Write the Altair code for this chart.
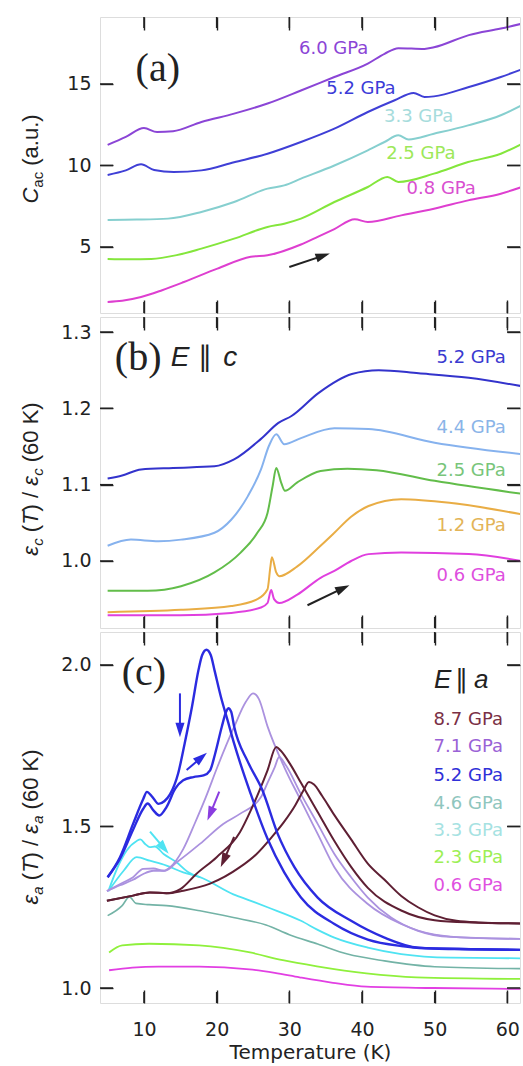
import math
import altair as alt
import pandas as pd

# ======================= DATA =======================
TEMP_TICKS = [10, 20, 30, 40, 50, 60]
A_TICKS = [5, 10, 15]
B_TICKS = [1.0, 1.1, 1.2, 1.3]
C_TICKS = [1.0, 1.5, 2.0]

# ---- panel (a): C_ac (a.u.) ----
A60_T = [5.0, 7.5, 10.0, 11.8, 14.0, 17.9, 22.4, 27.0, 31.6, 36.2, 40.8, 43.1, 45.0, 48.6, 49.9, 54.7, 59.1, 62.0]
A60_V = [11.26, 11.75, 12.3, 12.05, 12.1, 12.67, 13.18, 13.8, 14.6, 15.43, 16.25, 16.85, 17.2, 17.15, 17.25, 18.0, 18.4, 18.7]
A52_T = [5.0, 7.5, 9.6, 11.4, 14.1, 17.9, 22.4, 27.0, 31.6, 36.2, 40.8, 44.5, 47.1, 48.6, 49.9, 54.6, 59.1, 62.0]
A52_V = [9.42, 9.7, 10.07, 9.72, 9.6, 9.7, 10.2, 10.72, 11.44, 12.26, 13.28, 14.0, 14.45, 14.2, 14.24, 14.8, 15.43, 15.9]
A33_T = [5.0, 9.0, 13.3, 17.9, 22.4, 27.0, 29.3, 31.6, 36.2, 40.8, 43.1, 45.0, 46.4, 49.9, 54.6, 59.1, 62.0]
A33_V = [6.66, 6.68, 6.74, 7.15, 7.76, 8.58, 8.78, 9.19, 10.0, 10.93, 11.44, 11.85, 11.6, 11.95, 12.46, 13.08, 13.7]
A25_T = [5.0, 8.0, 11.0, 14.5, 17.9, 22.4, 27.0, 29.3, 31.6, 36.2, 40.8, 43.5, 45.0, 49.9, 54.6, 59.1, 62.0]
A25_V = [4.27, 4.25, 4.27, 4.5, 4.9, 5.51, 6.23, 6.43, 6.74, 7.76, 8.68, 9.3, 8.99, 9.5, 10.21, 10.72, 11.33]
A08_T = [5.0, 7.0, 9.6, 12.5, 15.5, 20.1, 24.7, 27.0, 31.6, 33.9, 36.2, 39.0, 40.8, 45.4, 49.9, 54.6, 59.1, 62.0]
A08_V = [1.63, 1.7, 1.93, 2.35, 2.85, 3.67, 4.4, 4.49, 5.15, 5.62, 6.1, 6.7, 6.53, 6.94, 7.35, 7.86, 8.27, 8.68]
A_LABELS = ["6.0 GPa", "5.2 GPa", "3.3 GPa", "2.5 GPa", "0.8 GPa"]
A_LABEL_T = [36.1, 39.85, 47.8, 48.1, 50.9]
A_LABEL_V = [17.15, 14.7, 13.0, 10.7, 8.55]
A_ARROW = [30.0, 3.77, 35.5, 4.59]

# ---- panel (b): eps_c(T)/eps_c(60 K), E || c ----
B52_T = [5.0, 7.0, 9.6, 14.0, 19.7, 22.4, 26.1, 28.5, 30.3, 34.0, 38.6, 42.3, 47.8, 54.7, 62.0]
B52_V = [1.108, 1.112, 1.120, 1.122, 1.124, 1.133, 1.160, 1.181, 1.19, 1.22, 1.245, 1.250, 1.246, 1.240, 1.229]
B44_T = [5.0, 8.2, 12.0, 15.1, 19.7, 22.0, 24.3, 26.1, 27.2, 28.2, 29.3, 31.6, 36.2, 40.9, 50.0, 62.0]
B44_V = [1.020, 1.028, 1.026, 1.028, 1.037, 1.054, 1.085, 1.12, 1.151, 1.166, 1.153, 1.161, 1.174, 1.173, 1.155, 1.140]
B25_T = [5.0, 10.5, 15.1, 19.7, 23.3, 25.6, 27.0, 27.7, 28.2, 28.9, 29.4, 31.1, 34.3, 38.0, 42.0, 50.0, 62.0]
B25_V = [0.961, 0.961, 0.967, 0.985, 1.011, 1.037, 1.063, 1.098, 1.122, 1.102, 1.092, 1.103, 1.118, 1.121, 1.119, 1.105, 1.088]
B12_T = [5.0, 15.1, 22.0, 25.6, 27.0, 27.4, 27.6, 28.2, 28.6, 31.1, 34.3, 36.2, 38.5, 40.9, 45.4, 52.3, 62.0]
B12_V = [0.933, 0.936, 0.941, 0.95, 0.963, 0.993, 1.005, 0.985, 0.98, 0.993, 1.02, 1.037, 1.058, 1.072, 1.081, 1.076, 1.061]
B06_T = [5.0, 15.0, 22.0, 26.1, 27.0, 27.5, 27.9, 28.6, 31.1, 34.3, 36.2, 38.5, 40.9, 45.4, 54.7, 62.0]
B06_V = [0.929, 0.929, 0.932, 0.939, 0.945, 0.962, 0.95, 0.945, 0.956, 0.978, 0.987, 1.0, 1.009, 1.011, 1.009, 1.0]
B_LABELS = ["5.2 GPa", "4.4 GPa", "2.5 GPa", "1.2 GPa", "0.6 GPa"]
B_LABEL_V = [1.266, 1.174, 1.118, 1.046, 0.980]
B_ARROW = [32.5, 0.942, 38.2, 0.968]

# ---- panel (c): eps_a(T)/eps_a(60 K), E || a ----
C06_T = [5.2, 8.4, 12.0, 17.6, 24.5, 28.0, 31.4, 36.0, 40.6, 49.8, 62.0]
C06_V = [1.055, 1.063, 1.066, 1.066, 1.058, 1.047, 1.033, 1.016, 1.004, 1.0, 0.997]
C23_T = [5.2, 7.0, 10.7, 17.6, 24.6, 29.1, 33.8, 40.6, 47.5, 62.0]
C23_V = [1.11, 1.132, 1.137, 1.132, 1.11, 1.086, 1.067, 1.045, 1.033, 1.028]
C46_T = [5.0, 7.0, 8.0, 8.9, 10.7, 13.1, 17.7, 22.3, 26.8, 30.0, 33.9, 38.0, 43.1, 50.0, 62.0]
C46_V = [1.224, 1.255, 1.282, 1.262, 1.258, 1.255, 1.239, 1.218, 1.195, 1.165, 1.136, 1.105, 1.084, 1.066, 1.06]
C33U_T = [5.1, 6.5, 7.6, 9.0, 9.5, 10.2, 10.8, 11.5, 12.7, 14.5, 16.0, 17.7]
C33U_V = [1.30, 1.38, 1.425, 1.455, 1.46, 1.445, 1.436, 1.438, 1.415, 1.389, 1.36, 1.343]
C33D_T = [5.1, 7.2, 9.0, 10.8, 13.1, 15.4, 17.7, 22.3, 24.7, 27.0, 31.6, 33.9, 36.2, 40.8, 45.4, 52.2, 62.0]
C33D_V = [1.30, 1.363, 1.405, 1.394, 1.379, 1.358, 1.343, 1.29, 1.27, 1.25, 1.208, 1.18, 1.156, 1.125, 1.105, 1.094, 1.092]
C52C_T = [5.0, 6.7, 8.5, 9.9, 10.4, 11.2, 12.0, 12.8, 13.6, 14.7, 15.6, 16.6, 17.5, 18.0, 18.6, 19.2, 19.7,
          20.6, 21.5, 22.4, 24.7, 27.0, 29.3, 31.6, 36.2, 40.8, 45.4, 48.6, 55.0, 62.0]
C52C_V = [1.343, 1.405, 1.508, 1.585, 1.607, 1.59, 1.57, 1.578, 1.60, 1.664, 1.757, 1.87, 1.984, 2.03, 2.047, 2.03, 1.984,
          1.90, 1.829, 1.757, 1.60, 1.462, 1.358, 1.28, 1.198, 1.15, 1.13, 1.123, 1.12, 1.118]
C52W_T = [5.0, 6.7, 8.5, 9.9, 10.5, 11.3, 12.1, 13.1, 14.3, 15.4, 16.8, 18.2, 19.1, 19.8, 20.7, 21.3, 21.6, 22.0,
          22.4, 24.3, 26.3, 28.4, 30.7, 33.9, 38.5, 43.1, 47.7, 55.0, 62.0]
C52W_V = [1.343, 1.40, 1.49, 1.555, 1.571, 1.55, 1.534, 1.56, 1.617, 1.643, 1.653, 1.658, 1.674, 1.726, 1.808, 1.855, 1.866, 1.855,
          1.81, 1.70, 1.612, 1.477, 1.374, 1.28, 1.208, 1.156, 1.125, 1.12, 1.118]
C71C_T = [4.9, 7.0, 8.5, 9.9, 11.3, 12.7, 13.6, 15.4, 17.0, 18.5, 20.1, 22.4, 24.0, 25.0, 25.8, 27.0, 29.3,
          31.6, 33.9, 36.2, 40.8, 45.4, 50.0, 55.0, 62.0]
C71C_V = [1.30, 1.325, 1.343, 1.369, 1.37, 1.363, 1.374, 1.43, 1.51, 1.59, 1.684, 1.808, 1.885, 1.912, 1.895, 1.81, 1.684,
          1.58, 1.477, 1.374, 1.26, 1.198, 1.165, 1.155, 1.152]
C71W_T = [4.9, 6.7, 8.5, 9.9, 11.3, 12.9, 14.5, 17.7, 20.9, 23.2, 26.1, 27.0, 28.0, 28.6, 29.5, 31.6, 33.9,
          36.2, 38.5, 40.8, 44.0, 47.7, 52.2, 62.0]
C71W_V = [1.30, 1.318, 1.335, 1.353, 1.363, 1.363, 1.389, 1.446, 1.508, 1.539, 1.591, 1.635, 1.684, 1.715, 1.69, 1.60, 1.508,
          1.415, 1.343, 1.28, 1.218, 1.177, 1.158, 1.152]
C87W_T = [4.9, 8.5, 10.8, 13.1, 15.4, 19.1, 23.2, 25.5, 27.5, 29.3, 30.8, 31.9, 32.7, 33.4, 34.5, 36.2, 38.5,
          40.8, 43.1, 45.4, 47.7, 50.0, 53.0, 56.0, 62.0]
C87W_V = [1.27, 1.286, 1.296, 1.293, 1.301, 1.323, 1.374, 1.415, 1.465, 1.515, 1.565, 1.61, 1.638, 1.63, 1.595, 1.535, 1.46,
          1.385, 1.335, 1.285, 1.25, 1.225, 1.208, 1.203, 1.20]
C87C_T = [4.9, 8.5, 10.8, 13.1, 15.0, 17.2, 20.0, 23.2, 24.7, 27.0, 28.2, 28.8, 30.2, 31.6, 33.9, 36.2, 38.5,
          40.8, 45.4, 50.0, 55.0, 62.0]
C87C_V = [1.27, 1.286, 1.296, 1.293, 1.306, 1.353, 1.405, 1.482, 1.55, 1.674, 1.746, 1.735, 1.69, 1.635, 1.545, 1.455, 1.375,
          1.31, 1.24, 1.21, 1.203, 1.20]
C_LABELS = ["8.7 GPa", "7.1 GPa", "5.2 GPa", "4.6 GPa", "3.3 GPa", "2.3 GPa", "0.6 GPa"]
C_LABEL_V = [1.830, 1.746, 1.656, 1.570, 1.486, 1.402, 1.316]
C_ARROWS = [
    [14.95, 1.912, 14.95, 1.778],   # blue, cooling
    [15.87, 1.675, 18.6, 1.727],    # blue, warming
    [20.36, 1.608, 18.76, 1.520],   # purple
    [22.4, 1.468, 20.6, 1.376],     # brown
    [10.83, 1.484, 13.35, 1.417],   # cyan
]

# ======================= STYLE =======================
INK = "#222222"
FONT = "DejaVu Sans"
TFONT = "Liberation Sans"
SERIF = "Liberation Serif"
W = 420
H_A, H_B, H_C = 296, 311, 371
X_DOMAIN = [3.95, 61.74]
YD_A = [0.95, 19.11]
YD_B = [0.9122, 1.3197]
YD_C = [0.9536, 2.102]
YTICK_LEN, XTICK_LEN = 13, 11

A_LINE = ["#8b45d6", "#3f3fd6", "#86cfcf", "#84e63c", "#de3fd0"]
A_TEXT = ["#8b45d6", "#3c3cd8", "#a6dcdc", "#9de85a", "#d94fd0"]
B_LINE = ["#3333cc", "#86b2ee", "#62bd4a", "#e9ad45", "#e03fdf"]
B_TEXT = ["#3a3ad0", "#8ab4e8", "#78c57a", "#e3b458", "#de4fde"]
C_TEXT = ["#7a2f45", "#9a62d6", "#3030d8", "#8fc6be", "#a6e2e2", "#9cef55", "#e050e0"]
C_COL = {"8.7": "#5e1f33", "7.1": "#ab92df", "5.2": "#2b2be0", "4.6": "#73b3a6",
         "3.3": "#4fe3f2", "2.3": "#8ff03c", "0.6": "#e23fe3"}
C_ARROW_COL = ["#2b2be0", "#2b2be0", "#8a3de0", "#5e1f33", "#4fe3f2"]

DUMMY = pd.DataFrame({"k": [0]})


def xscale():
    return alt.Scale(domain=X_DOMAIN, nice=False, zero=False)


def yscale(d):
    return alt.Scale(domain=d, nice=False, zero=False)


def line_df(curves):
    rows = []
    for key, ts, vs, col, w in curves:
        for i, (t, v) in enumerate(zip(ts, vs)):
            rows.append({"T": t, "V": v, "key": key, "color": col, "w": w, "i": i})
    return pd.DataFrame(rows)


def lines_layer(df, ydom, yticks, yfmt, bottom_labels):
    xa = dict(orient="bottom", values=TEMP_TICKS, tickSize=13, offset=-13, domain=False, grid=False,
              tickColor=INK, tickWidth=1.4, labels=bottom_labels)
    if bottom_labels:
        xa.update(labelFont=FONT, labelFontSize=19, labelColor=INK, labelPadding=17,
                  title="Temperature (K)", titleFont=FONT, titleFontSize=20, titleFontWeight="normal",
                  titleColor=INK, titlePadding=3)
    else:
        xa.update(title=None)
    ya = alt.Axis(orient="left", values=yticks, format=yfmt, tickSize=13, offset=-13, domain=False, grid=False,
                  tickColor=INK, tickWidth=1.4, labelFont=FONT, labelFontSize=19, labelColor=INK,
                  labelPadding=9, title=None)
    return alt.Chart(df).mark_line(interpolate="monotone", clip=True).encode(
        x=alt.X("T:Q", scale=xscale(), axis=alt.Axis(**xa)),
        y=alt.Y("V:Q", scale=yscale(ydom), axis=ya),
        color=alt.Color("color:N", scale=None),
        strokeWidth=alt.StrokeWidth("w:Q", scale=None),
        detail="key:N",
        order="i:Q",
    )


def mirror_layer(ydom, yticks):
    d = pd.DataFrame({"T": [30.0], "V": [(ydom[0] + ydom[1]) / 2]})
    return alt.Chart(d).mark_point(opacity=0).encode(
        x=alt.X("T:Q", scale=xscale(), axis=alt.Axis(orient="top", values=TEMP_TICKS, labels=False, tickSize=13,
                                                       offset=-13, domain=False, grid=False, title=None,
                                                       tickColor=INK, tickWidth=1.4)),
        y=alt.Y("V:Q", scale=yscale(ydom), axis=alt.Axis(orient="right", values=yticks, labels=False, tickSize=13,
                                                          offset=-13, domain=False, grid=False, title=None,
                                                          tickColor=INK, tickWidth=1.4)),
    )


def tick_layers(ydom, yticks, H):
    """Inward tick marks on all four sides, placed through the scales."""
    dy = pd.DataFrame({"V": yticks})
    dx = pd.DataFrame({"T": TEMP_TICKS})
    out = []
    for x0, x1 in [(0, YTICK_LEN), (W - YTICK_LEN, W)]:
        out.append(alt.Chart(dy).mark_rule(color=INK, strokeWidth=1.5).encode(
            y=alt.Y("V:Q", scale=yscale(ydom), axis=None), x=alt.value(x0), x2=alt.value(x1)))
    for y0, y1 in [(0, XTICK_LEN), (H - XTICK_LEN, H)]:
        out.append(alt.Chart(dx).mark_rule(color=INK, strokeWidth=1.5).encode(
            x=alt.X("T:Q", scale=xscale(), axis=None), y=alt.value(y0), y2=alt.value(y1)))
    return out


def text_layer(ts, vs, texts, cols, ydom, align="center", size=18, font=FONT, style=None, baseline="middle"):
    d = pd.DataFrame({"T": ts, "V": vs, "txt": texts, "col": cols})
    kw = dict(align=align, baseline=baseline, font=font, fontSize=size)
    if style:
        kw["fontStyle"] = style
    return alt.Chart(d).mark_text(**kw).encode(
        x=alt.X("T:Q", scale=xscale(), axis=None),
        y=alt.Y("V:Q", scale=yscale(ydom), axis=None),
        text="txt:N",
        color=alt.Color("col:N", scale=None),
    )


def arrow_layers(arrows, cols, ydom, H):
    kx = W / (X_DOMAIN[1] - X_DOMAIN[0])
    ky = H / (ydom[1] - ydom[0])
    rows = []
    for (t0, v0, t1, v1), col in zip(arrows, cols):
        dx = (t1 - t0) * kx
        dy = -(v1 - v0) * ky
        L = math.hypot(dx, dy)
        ang = math.degrees(math.atan2(dx, -dy)) % 360
        back = 7.0
        tc = t1 - dx / L * back / kx
        vc = v1 + dy / L * back / ky
        rows.append({"T0": t0, "V0": v0, "T1": tc, "V1": vc, "ang": ang, "col": col})
    d = pd.DataFrame(rows)
    shaft = alt.Chart(d).mark_rule(strokeWidth=2).encode(
        x=alt.X("T0:Q", scale=xscale(), axis=None), y=alt.Y("V0:Q", scale=yscale(ydom), axis=None),
        x2="T1:Q", y2="V1:Q", color=alt.Color("col:N", scale=None))
    head = alt.Chart(d).mark_point(shape="M0,-1L0.6,0.9L-0.6,0.9Z", filled=True, size=230, opacity=1).encode(
        x=alt.X("T1:Q", scale=xscale(), axis=None), y=alt.Y("V1:Q", scale=yscale(ydom), axis=None),
        angle=alt.Angle("ang:Q", scale=None), color=alt.Color("col:N", scale=None))
    return [shaft, head]


TW = {' ': 0.278, '(': 0.333, ')': 0.333, '.': 0.278, '/': 0.278, 'a': 0.556, 'c': 0.5, 'u': 0.556,
      'C': 0.722, 'T': 0.611, 'K': 0.667, '0': 0.556, '6': 0.556, 'ε': 0.45}
MAIN, SUB = 22, 15


def ytitle_layers(pieces, center_y, base_x=-62):
    sizes = [SUB if kind == "sub" else MAIN for _, kind, _ in pieces]
    widths = [sum(TW.get(ch, 0.55) for ch in s) * sz for (s, _, _), sz in zip(pieces, sizes)]
    total = sum(widths)
    y = center_y + total / 2
    out = []
    for (s, kind, ital), sz, w in zip(pieces, sizes, widths):
        lead = len(s) - len(s.lstrip(" "))
        y_text = y - lead * TW[' '] * sz
        kw = dict(angle=270, align="left", baseline="alphabetic", font=TFONT, fontSize=sz, color=INK)
        if ital:
            kw["fontStyle"] = "italic"
        bx = base_x + (5 if kind == "sub" else 0)
        out.append(alt.Chart(DUMMY).mark_text(**kw).encode(
            x=alt.value(bx), y=alt.value(y_text), text=alt.value(s.strip(" "))))
        y -= w
    return out


def left_marker():
    return alt.Chart(DUMMY).mark_rule(opacity=0).encode(
        x=alt.value(-99), x2=alt.value(-98), y=alt.value(20), y2=alt.value(30))


# ======================= PANEL (a) =======================
a_curves = [("a60", A60_T, A60_V, A_LINE[0], 2.0), ("a52", A52_T, A52_V, A_LINE[1], 2.0),
            ("a33", A33_T, A33_V, A_LINE[2], 2.0), ("a25", A25_T, A25_V, A_LINE[3], 2.0),
            ("a08", A08_T, A08_V, A_LINE[4], 2.0)]
pa_layers = [lines_layer(line_df(a_curves), YD_A, A_TICKS, "d", False), mirror_layer(YD_A, A_TICKS),
             text_layer(A_LABEL_T, A_LABEL_V, A_LABELS, A_TEXT, YD_A),
             text_layer([11.9], [15.92], ["(a)"], [INK], YD_A, size=40, font=SERIF)]
pa_layers += tick_layers(YD_A, A_TICKS, H_A)
pa_layers += arrow_layers([A_ARROW], [INK], YD_A, H_A)
pa_layers += ytitle_layers([("C", "main", True), ("ac", "sub", False), (" (a.u.)", "main", False)], 142)
pa_layers.append(left_marker())
panel_a = alt.layer(*pa_layers).properties(width=W, height=H_A).resolve_axis(x="independent", y="independent")

# ======================= PANEL (b) =======================
b_curves = [("b52", B52_T, B52_V, B_LINE[0], 2.0), ("b44", B44_T, B44_V, B_LINE[1], 2.0),
            ("b25", B25_T, B25_V, B_LINE[2], 2.0), ("b12", B12_T, B12_V, B_LINE[3], 2.0),
            ("b06", B06_T, B06_V, B_LINE[4], 2.0)]
pb_layers = [lines_layer(line_df(b_curves), YD_B, B_TICKS, ".1f", False), mirror_layer(YD_B, B_TICKS),
             text_layer([59.8] * 5, B_LABEL_V, B_LABELS, B_TEXT, YD_B, align="right"),
             text_layer([9.2], [1.266], ["(b)"], [INK], YD_B, size=40, font=SERIF),
             text_layer([13.7, 20.9], [1.266, 1.266], ["E", "c"], [INK, INK], YD_B, align="left", size=28,
                        font=TFONT, style="italic"),
             text_layer([18.4], [1.266], ["\u2225"], [INK], YD_B, align="center", size=28, font=TFONT)]
pb_layers += tick_layers(YD_B, B_TICKS, H_B)
pb_layers += arrow_layers([B_ARROW], [INK], YD_B, H_B)
pb_layers += ytitle_layers([("ε", "main", True), ("c", "sub", True), (" (", "main", False), ("T", "main", True),
                            (") / ", "main", False), ("ε", "main", True), ("c", "sub", True),
                            (" (60 K)", "main", False)], 162)
pb_layers.append(left_marker())
panel_b = alt.layer(*pb_layers).properties(width=W, height=H_B).resolve_axis(x="independent", y="independent")

# ======================= PANEL (c) =======================
c_curves = [("c06", C06_T, C06_V, C_COL["0.6"], 1.8), ("c23", C23_T, C23_V, C_COL["2.3"], 1.8),
            ("c46", C46_T, C46_V, C_COL["4.6"], 1.6), ("c33u", C33U_T, C33U_V, C_COL["3.3"], 1.8),
            ("c33d", C33D_T, C33D_V, C_COL["3.3"], 1.8),
            ("c71c", C71C_T, C71C_V, C_COL["7.1"], 1.8), ("c71w", C71W_T, C71W_V, C_COL["7.1"], 1.8),
            ("c87c", C87C_T, C87C_V, C_COL["8.7"], 2.0), ("c87w", C87W_T, C87W_V, C_COL["8.7"], 2.0),
            ("c52c", C52C_T, C52C_V, C_COL["5.2"], 2.4), ("c52w", C52W_T, C52W_V, C_COL["5.2"], 2.4)]
pc_layers = [lines_layer(line_df(c_curves), YD_C, C_TICKS, ".1f", True), mirror_layer(YD_C, C_TICKS),
             text_layer([59.4] * 7, C_LABEL_V, C_LABELS, C_TEXT, YD_C, align="right"),
             text_layer([10.0], [1.975], ["(c)"], [INK], YD_C, size=40, font=SERIF),
             text_layer([49.9, 55.4], [1.953, 1.953], ["E", "a"], [INK, INK], YD_C, align="left", size=26,
                        font=TFONT, style="italic"),
             text_layer([53.7], [1.953], ["\u2225"], [INK], YD_C, align="center", size=26, font=TFONT)]
pc_layers += tick_layers(YD_C, C_TICKS, H_C)
pc_layers += arrow_layers(C_ARROWS, C_ARROW_COL, YD_C, H_C)
pc_layers += ytitle_layers([("ε", "main", True), ("a", "sub", True), (" (", "main", False), ("T", "main", True),
                            (") / ", "main", False), ("ε", "main", True), ("a", "sub", True),
                            (" (60 K)", "main", False)], 195)
pc_layers.append(left_marker())
panel_c = alt.layer(*pc_layers).properties(width=W, height=H_C).resolve_axis(x="independent", y="independent")

chart = alt.vconcat(panel_a, panel_b, panel_c, spacing=0).properties(
    padding={"left": 0, "top": 15, "right": 0, "bottom": 0}
).configure_view(stroke=INK, strokeWidth=1.6).configure(background="white")

chart.save("out.html", embed_options={"renderer": "svg", "actions": False})
